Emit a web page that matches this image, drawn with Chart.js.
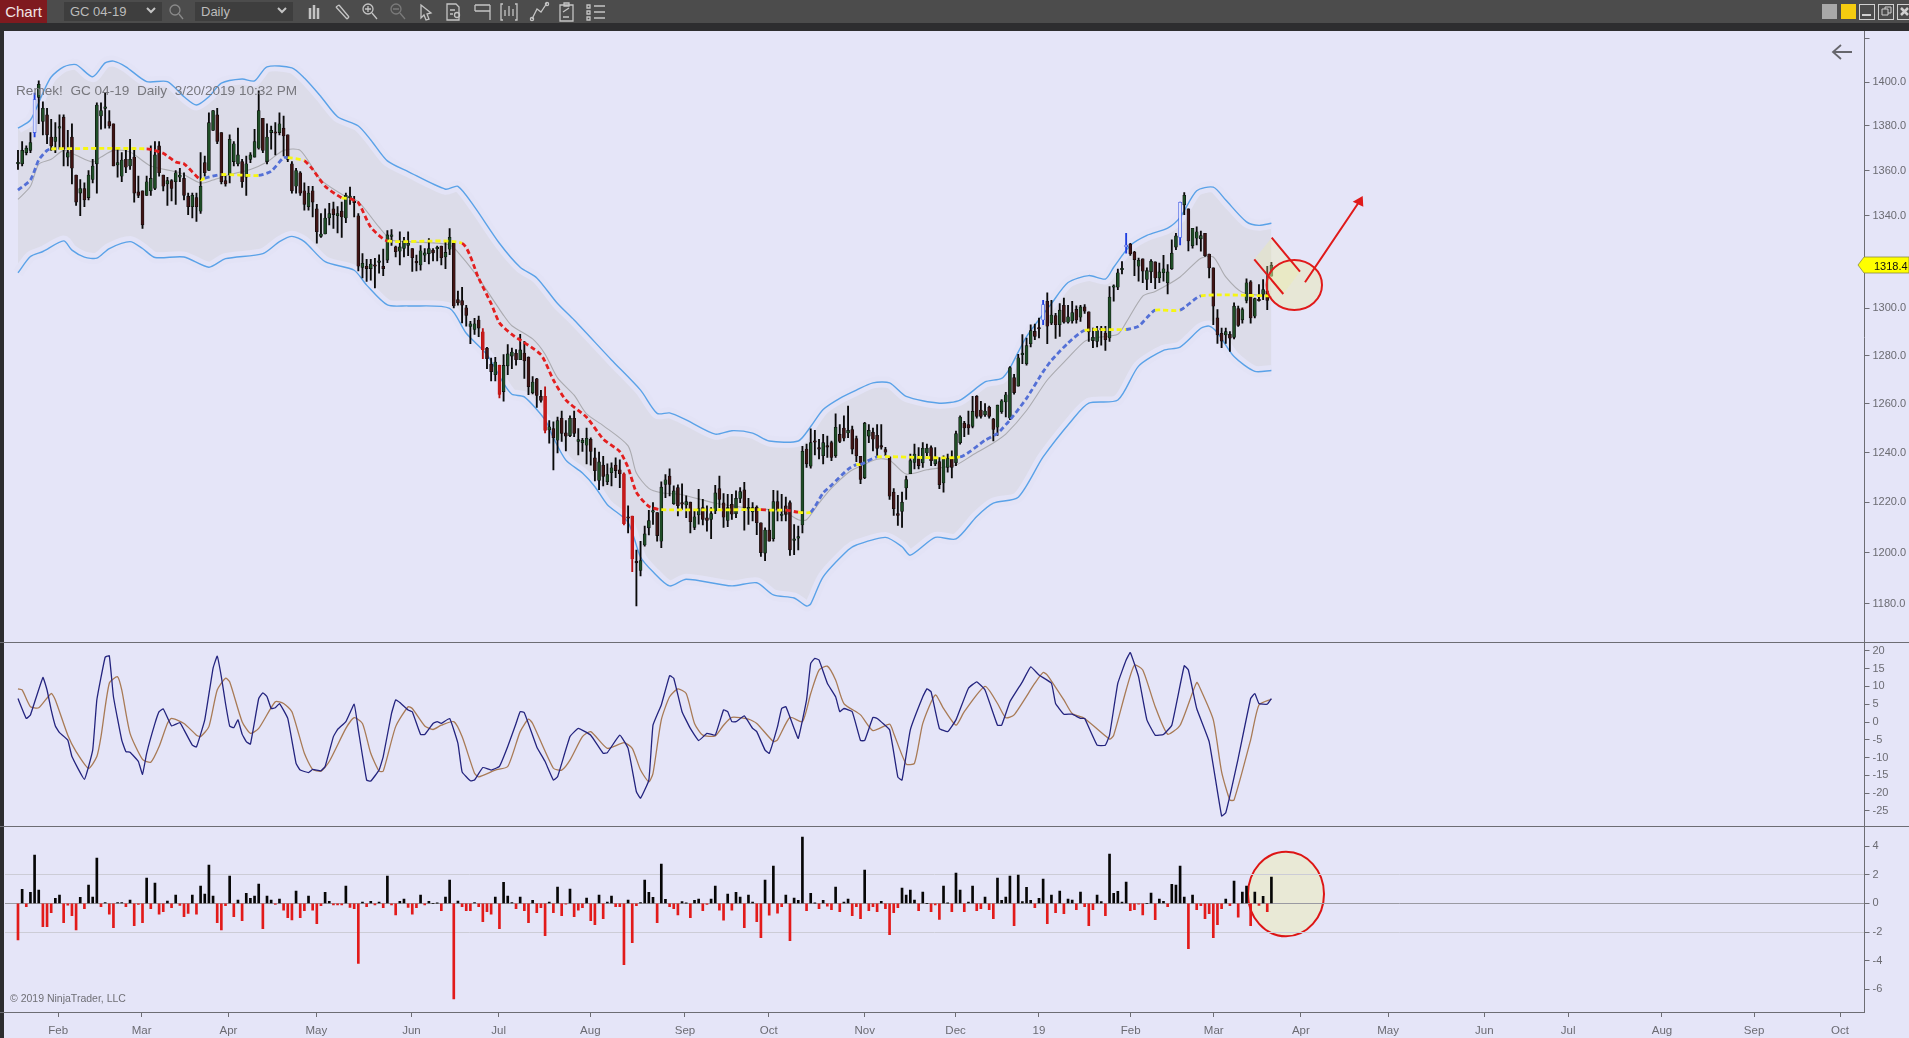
<!DOCTYPE html>
<html>
<head>
<meta charset="utf-8">
<title>GC 04-19 Daily</title>
<script src="https://cdn.jsdelivr.net/npm/chart.js@4/dist/chart.umd.min.js"></script>
<style>
  html, body { margin: 0; padding: 0; width: 1909px; height: 1038px; overflow: hidden; background: #e5e5f8; font-family: "Liberation Sans", sans-serif; }
  canvas { position: absolute; left: 0; }
  .abs { position: absolute; }
  #topbar { left: 0; top: 0; width: 1909px; height: 23px; background: #4c4c4c; }
  #topshade { left: 0; top: 23px; width: 1909px; height: 8px; background: #2d2d2f; }
  #leftstrip { left: 0; top: 31px; width: 4px; height: 1007px; background: #2d2d2f; }
  #chartbtn { left: 0; top: 0; width: 47px; height: 23px; background: #7f1a1f; color: #f2e6e6; font-size: 15px; line-height: 24px; text-align: center; }
  .picker { top: 2px; height: 19px; background: #3e3e3e; color: #bcbcbc; font-size: 13px; line-height: 20px; padding-left: 6px; box-sizing: border-box; }
  .sep { left: 0; width: 1909px; height: 1px; background: #6d6d74; }
  #title { left: 16px; top: 83px; font-size: 13.6px; color: #77777d; white-space: pre; }
  #copy { left: 10px; top: 992px; font-size: 10.5px; color: #6f6f75; white-space: pre; }
  svg { position: absolute; left: 0; top: 0; }
</style>
</head>
<body>
<svg width="1909" height="1038" xmlns="http://www.w3.org/2000/svg">
  <!-- lower pane circle sits behind the bars -->
  <ellipse cx="1286" cy="894" rx="38" ry="42.3" fill="#e9e9d6" stroke="#dd1515" stroke-width="2"/>
</svg>
<canvas id="priceChart" width="1909" height="612" style="top:31px"></canvas>
<canvas id="oscChart" width="1909" height="184" style="top:643px"></canvas>
<canvas id="histChart" width="1909" height="211" style="top:827px"></canvas>

<div class="abs" id="topbar"></div>
<div class="abs" id="topshade"></div>
<div class="abs" id="leftstrip"></div>
<div class="abs" id="chartbtn">Chart</div>
<div class="abs picker" style="left:64px;width:98px">GC 04-19</div>
<div class="abs picker" style="left:195px;width:98px">Daily</div>
<div class="abs sep" style="top:642px"></div>
<div class="abs sep" style="top:826px"></div>
<div class="abs sep" style="top:1012px;width:1865px"></div>
<div class="abs" id="title">Remek!  GC 04-19  Daily  3/20/2019 10:32 PM</div>
<div class="abs" id="copy">© 2019 NinjaTrader, LLC</div>

<svg width="1909" height="1038" xmlns="http://www.w3.org/2000/svg">
  <!-- toolbar icons -->
  <g fill="none" stroke="#c4c4c4" stroke-width="1.3">
    <circle cx="175" cy="10" r="5" stroke="#8a8a8a"/><path d="M179 14l4 5" stroke="#8a8a8a"/>
    <path d="M310 8v11M314 5v14M318 8v11" stroke-width="2.5"/>
    <path d="M336 7l11 12M339 5l10 12M336 7l3-2M347 19l2-2"/>
    <circle cx="368" cy="9" r="5"/><path d="M372 13l5 6M365 9h6M368 6v6"/>
    <circle cx="396" cy="9" r="5" stroke="#7a7a7a"/><path d="M400 13l5 6M393 9h6" stroke="#7a7a7a"/>
    <path d="M421 5l10 8-4 1 2 5-3 1-2-5-3 3z"/>
    <path d="M447 4h9l3 3v13h-12zM450 10h5M450 14h3"/><circle cx="457" cy="15" r="2.5"/>
    <path d="M475 5h15M475 11h15M475 5v6M490 5v15"/>
    <path d="M503 4h-2v16h2M515 4h2v16h-2M505 16v-6M509 16v-10M513 16v-7"/>
    <path d="M532 19l5-10 4 3 6-9"/><circle cx="532" cy="19" r="1.6"/><circle cx="547" cy="4" r="1.6"/>
    <path d="M560 5h13v16h-13zM564 3h5v3h-5zM563 12l6-4M563 17h6"/>
    <path d="M587 5h3v3h-3zM587 11h3v3h-3zM587 17h3v3h-3zM594 6h11M594 12h11M594 18h11"/>
    <path d="M147 8l4 4 4-4" stroke-width="2"/>
    <path d="M278 8l4 4 4-4" stroke-width="2"/>
  </g>
  <!-- window buttons -->
  <rect x="1822" y="4" width="15" height="15" fill="#a8a8a8"/>
  <rect x="1841" y="4" width="15" height="15" fill="#f5cc10"/>
  <g fill="none" stroke="#d0d0d0" stroke-width="1">
    <rect x="1859.5" y="4.5" width="15" height="15"/><path d="M1862 15h9" stroke-width="2"/>
    <rect x="1878.5" y="4.5" width="15" height="15"/><path d="M1882 9h6v6h-6zM1885 9v-2h6v6h-3"/>
    <rect x="1897.5" y="4.5" width="15" height="15"/><path d="M1901 8l7 7M1908 8l-7 7" stroke-width="2.5"/>
  </g>
  <!-- back arrow -->
  <path d="M1833 52h19M1841 45l-8 7 8 7" fill="none" stroke="#66666c" stroke-width="1.8"/>
  <!-- last price tag -->
  <path d="M1858 265l6-8h45v16h-45z" fill="#ffff00" stroke="#8c8c40" stroke-width="0.8"/>
  <text x="1874" y="269.5" font-size="11" fill="#111" font-family="Liberation Sans">1318.4</text>
  <!-- price panel drawing tools -->
  <polygon points="1271.7,237.7 1300,271.7 1283.3,294 1254.3,259.3" fill="#f0f0a0" fill-opacity="0.3"/>
  <ellipse cx="1294.3" cy="285" rx="27.7" ry="25" fill="#ecec9c" fill-opacity="0.36" stroke="#e01a1a" stroke-width="2"/>
  <g stroke="#e01a1a" stroke-width="2" fill="none">
    <path d="M1271.7 237.7L1300 271.7M1254.3 259.3L1283.3 294M1305 282.3L1359 202"/>
  </g>
  <polygon points="1352.7,201.7 1363.3,206.7 1362.7,196" fill="#e01a1a"/>
</svg>

<script>
// OHLC, one value per daily bar
const opens = [
  1363,1363,1368,1369,1377,1393,1382,1385,1375,1373,
  1379,1384,1366,1375,1358,1350,1352,1348,1356,1363,
  1384.5,1388,1382,1381,1362.5,1357.5,1365,1362,1366,1350.5,
  1351,1349,1351,1352,1371,1358,1354,1355.5,1355,1357,
  1356.5,1348.5,1344,1348,1342,1363.5,1360,1378,1385,1377,
  1355.5,1358,1364,1363,1364,1357,1365,1366,1370,1383.5,
  1364,1377,1377,1377,1379,1376,1363,1353,1359,1351,
  1344,1351,1343,1331,1332,1339,1343,1340,1342,1339,
  1348,1346,1340,1317.5,1318,1317,1318.6,1319.7,1318,1320.7,
  1331,1326.4,1324.5,1325.7,1327,1325.7,1319.8,1318.6,1322.8,1323.5,
  1325,1325.6,1326.8,1322,1325.4,1328,1303.7,1303.3,1300.2,1292.3,
  1291,1295,1290,1283.2,1276.4,1272,1275.9,1265,1275.7,1279.8,
  1281,1278.3,1281.1,1279.3,1264.5,1270.3,1263,1263,1249.2,1249.8,
  1245,1254,1248,1246.9,1254,1244.5,1244,1243,1245.4,1237.8,
  1228.7,1234.9,1228.2,1231.8,1234.9,1233,1231.4,1214,1214.5,1196.5,
  1193,1203,1209.8,1216,1215.8,1204.5,1227.1,1230.5,1219.4,1225.8,
  1219.5,1218.9,1220,1210,1214.9,1217.8,1213.8,1213.1,1216.5,1225.4,
  1219.7,1212.7,1219.1,1215.4,1221.5,1224.9,1217.3,1216.1,1218,1211.8,
  1199.8,1208.9,1205.5,1220.2,1214.7,1218.5,1219.8,1204.8,1205.7,1210.9,
  1241.4,1234.5,1244.6,1241.8,1238.7,1242.6,1244,1238.7,1247.4,1250,
  1248,1249.4,1245.7,1238.5,1229.8,1246.7,1248.3,1247,1242.7,1241.2,
  1238.3,1224,1215.4,1216.3,1225.7,1231.4,1236,1238.5,1235.8,1239.8,
  1242,1235.4,1236.3,1227.7,1234,1238,1235.8,1244,1252,1251.4,
  1250.7,1263,1257.4,1255.4,1258.5,1253.7,1250.3,1256.7,1260.7,1254,
  1270.8,1267.3,1280.4,1276.6,1285,1290.2,1291.6,1295,1303,1293.7,
  1296.9,1293,1301.3,1294.1,1294.6,1299.5,1296.2,1300.6,1298.5,1286.3,
  1286,1291.2,1289.5,1287.4,1309,1309,1316.5,1326.5,1327.6,1324.2,
  1318,1321.2,1312.3,1315.6,1319.9,1313,1315.2,1310.9,1316.9,1326.3,
  1330.5,1344.8,1343,1326.9,1330.2,1329.9,1332.3,1323.3,1317.3,1295.9,
  1289.4,1288.7,1289,1287.7,1299.9,1295.1,1303.3,1311.3,1296.6,1303.4,
  1305.9,1307.3,1313.7
];
const highs = [
  1369,1373,1371,1377,1395,1400.5,1391,1388,1383,1381.5,
  1385,1385,1378,1381,1358,1356,1354.5,1360,1365,1390.5,
  1390.5,1395,1387,1381,1369.5,1368,1369,1374,1370,1357.5,
  1351,1357.5,1371,1373,1373,1358,1357,1356,1360,1361,
  1359,1350,1350,1350,1368,1366.5,1386,1387,1388,1377,
  1357.5,1376,1373,1379,1365,1366.5,1368,1378.5,1396,1383.5,
  1381,1380,1381.5,1386,1384.5,1376,1364,1361,1359.5,1354.5,
  1353,1353,1345,1341,1343,1345.5,1346,1344,1346,1350,
  1352.7,1348.5,1341,1323.5,1321,1321,1321.4,1323,1325.4,1333.5,
  1334,1326.8,1333,1330.6,1333,1325.7,1322.8,1327,1325.7,1330,
  1325.7,1326.8,1326.8,1328.8,1334.4,1328.5,1307.3,1309,1301.3,1294.5,
  1295.7,1296.7,1291.4,1283.5,1279,1279.3,1276,1280.4,1284.6,1283.2,
  1282.5,1289,1286,1279.5,1271.2,1270.5,1265.5,1267,1253,1252.5,
  1254.5,1256.9,1253,1255,1257,1249.8,1245.8,1250,1246,1241.8,
  1240.2,1238.5,1235.4,1235.8,1237.8,1237,1231.8,1218.5,1214.5,1201,
  1204.5,1210.5,1216.7,1219.8,1215.8,1228.2,1231.1,1233.4,1226.5,1226.9,
  1227.4,1222.5,1220,1216.5,1225.1,1221.1,1218.5,1217.8,1226.7,1230.5,
  1223.4,1223.1,1223.1,1224.5,1225.8,1228,1221.5,1219.8,1218.5,1211.8,
  1209.8,1217.1,1224.7,1224.5,1223.1,1222,1220.5,1211.1,1210.5,1242.5,
  1243.4,1249.7,1249.1,1245.4,1247.4,1246.7,1244.7,1255.8,1251.4,1255,
  1259,1250.8,1246.7,1238.5,1252.3,1251.4,1250,1251.4,1251.4,1242.1,
  1238.3,1225.4,1222.7,1224,1230.5,1239.4,1243.4,1242,1244,1243.4,
  1242.7,1242,1238,1238.7,1239.4,1240.7,1248.7,1255,1252.7,1257,
  1263,1263.4,1261,1260,1259,1254,1259.4,1261.7,1264.7,1275.4,
  1272.2,1280.5,1288.8,1287.4,1293,1293.3,1295.8,1303.4,1306.6,1303.4,
  1297.8,1302,1304.3,1301.3,1303,1301,1301.3,1301.6,1298.5,1291.6,
  1292.3,1292.3,1292.3,1309.3,1310,1316.8,1320,1332.3,1328,1324.5,
  1321.6,1321.2,1317.3,1320.9,1319.9,1319.4,1322.7,1318.7,1329.5,1332.3,
  1346,1350.2,1343,1334.5,1335.2,1333.3,1332.3,1323.3,1317.3,1299.4,
  1291.6,1291.6,1290.1,1302.3,1300.9,1300.2,1312.6,1311.9,1304.4,1310.1,
  1312.3,1318,1319.7
];
const lows = [
  1360.5,1362,1367,1368,1375,1381,1376,1372,1369,1368,
  1369.5,1362,1362,1354,1344.5,1340,1344,1347,1354.5,1350,
  1378.5,1379,1379,1362,1357,1355,1359,1360.5,1346,1348,
  1334.5,1349,1349,1351.5,1357.5,1351,1344.5,1346.5,1345,1355,
  1347,1340.5,1339,1337.5,1341,1357.5,1360,1378,1372,1354,
  1353,1354.5,1362,1362,1352.5,1349,1363.5,1366,1369.5,1368,
  1363,1369.5,1367,1376,1366.5,1364,1350,1350,1349,1342.5,
  1342.5,1339.5,1328,1330.5,1332,1336,1334.5,1332.5,1330.5,1337,
  1345,1339.5,1316,1313,1311.5,1312,1308.7,1315,1314,1319.6,
  1327,1322,1318.6,1322,1322.6,1315.8,1316,1316.3,1320,1319,
  1320.3,1320.3,1318.6,1317,1323,1300.2,1301.3,1293.8,1292.4,1285,
  1288.9,1288,1278.7,1274.5,1269.4,1269.4,1262.4,1261,1272,1274.5,
  1276,1278.3,1270.5,1263.7,1264,1258.5,1260.6,1248,1243.8,1233,
  1239.8,1244.5,1240.7,1246.5,1246.5,1239,1240.5,1235.4,1234.9,1228.5,
  1225,1226.5,1227,1226.5,1229.8,1225.8,1210.9,1207.8,1192.5,1179.2,
  1190.9,1202.5,1207,1211.1,1204.5,1202,1221.8,1222.5,1219.1,1214.5,
  1217.1,1213.8,1207.8,1209.1,1211.2,1210.9,1208.5,1205.5,1215.4,1217.8,
  1210,1210.2,1213.1,1213.8,1219.8,1208.9,1211.1,1212.5,1207.1,1198.5,
  1196.8,1204.5,1204.5,1212.5,1212.5,1212.5,1198.9,1199.2,1201.1,1207.8,
  1234,1233.7,1239,1237.4,1235.4,1238,1236.7,1238,1244,1244.7,
  1246,1239.4,1236.3,1227.4,1229.4,1244,1240.7,1238,1241.4,1238.7,
  1221.1,1214.7,1210.7,1210,1221.1,1231.4,1233.4,1233.4,1234,1238.7,
  1234.7,1234.7,1225.4,1224,1232,1229.7,1234.7,1243.4,1246.5,1247.4,
  1250,1254,1254,1254.8,1254,1244.7,1247,1256,1254.5,1253.4,
  1263.9,1267.3,1276.6,1276,1283.6,1286.7,1287.4,1293,1285,1293,
  1287.2,1288.1,1293.7,1293.7,1293.7,1293.7,1294.4,1297.8,1286,1283.3,
  1283.6,1284.4,1282.2,1286,1303,1308,1314.7,1323.7,1322.7,1314,
  1311.6,1310.9,1308,1310.9,1308.4,1310.9,1311.6,1306.1,1316.6,1325.2,
  1327.3,1340.5,1324.7,1325.9,1327.3,1324.5,1322.3,1313,1293,1285.1,
  1283.3,1285.1,1281.8,1287,1292.3,1293.7,1302.3,1293.7,1295.9,1303,
  1303.7,1299.4,1313.7
];
const closes = [
  1363.2,1369,1370,1372.5,1392,1399,1388,1376,1371,1375,
  1379.5,1369.5,1368,1361,1346,1352,1347,1358,1362,1389.5,
  1387,1388.3,1380,1362,1363.5,1364.7,1361.5,1365,1350,1349,
  1336,1355,1356.5,1367,1359,1353,1355.5,1352,1359,1358,
  1349,1344,1349,1344,1353,1359,1381.5,1387,1373,1355,
  1354,1374,1372,1367,1355,1363,1367,1373,1387,1369,
  1375,1378,1376.7,1381,1375.5,1365,1351,1360,1350,1345,
  1350,1346,1333,1332,1339,1341,1340.5,1341,1339.5,1349,
  1348.7,1345.8,1318,1319.3,1317,1319,1318,1320,1317,1331.6,
  1331.2,1324.3,1326.4,1329,1328,1321.7,1319.5,1324.7,1323.8,1325.7,
  1323.8,1325.8,1321.7,1324,1330.6,1301,1302.3,1301.3,1297,1293.4,
  1293.4,1291.6,1282.5,1278.7,1273.3,1277.3,1263.8,1275.9,1280.7,1281.5,
  1278.3,1282.4,1277.8,1267,1269,1263.4,1261.3,1249,1250.5,1246,
  1253,1247.8,1246.7,1254,1247.8,1245.3,1245,1245.8,1240.5,1232.7,
  1236.2,1230.3,1231.1,1233.8,1232.7,1231.4,1211.4,1213.6,1197.5,1196,
  1196.9,1207.4,1212.7,1216.1,1206.7,1226,1229,1227.1,1224.5,1218.6,
  1219.2,1220.2,1212.2,1214.2,1217.4,1213.1,1212.7,1215.4,1223.7,1221.1,
  1214,1217.8,1215.2,1221.5,1224.2,1217.8,1217.5,1217.8,1211.8,1200,
  1208.9,1204.5,1220.2,1217.1,1214.8,1215.1,1201.1,1204.9,1206.2,1240.5,
  1235.4,1244,1244.2,1241.4,1244,1242.2,1238,1250.3,1244.5,1245.8,
  1249,1241.4,1238.7,1229.1,1252,1249,1245.4,1241.7,1242.2,1240.1,
  1222.4,1217.4,1214.7,1220,1229.1,1236.7,1239.4,1234.7,1241.7,1241.7,
  1236.7,1238,1227,1237.4,1237.7,1234,1247.7,1254.5,1250,1250,
  1256.8,1254.8,1254.8,1257,1254.8,1249.4,1259.4,1261.2,1263.7,1275,
  1264.6,1279.1,1280.6,1284.2,1290.5,1288.1,1291.2,1301.6,1292.4,1297.1,
  1293,1299.2,1294.1,1296.4,1298.2,1295,1300.6,1298.8,1290,1287.7,
  1290.5,1290.9,1286.7,1304.8,1309.4,1315.2,1317,1327,1323.3,1320.9,
  1320.6,1315.9,1316.2,1320.2,1313,1315.6,1316.9,1315.6,1323.7,1331.2,
  1345.9,1349,1329,1334.5,1333,1331.3,1322.6,1317.3,1300.9,1288.7,
  1286.1,1290.1,1287.3,1300.9,1292.7,1299.4,1310.9,1295.9,1304.1,1303.2,
  1308,1303.3,1318.4
];
const blueBars = [4, 247, 267, 280];
const brightBars = [112, 116, 127, 146, 148];

// channel, average and trend lines, read at their turning points
const upperBars = [0,3,6,8,11,14,18,21,23,26,31,36,40,43,46,49,54,57,60,66,69,73,77,82,85,89,94,103,106,110,116,121,125,130,134,143,150,154,157,161,168,172,177,181,188,191,194,198,202,206,210,214,222,227,233,237,239,243,249,253,258,262,264,268,272,277,280,284,288,291,296,299,302];
const upperBand = [1379,1382.7,1395,1402.3,1407,1408,1402.4,1408.8,1409.6,1407,1400.2,1400.2,1393.3,1389.5,1393.3,1399.5,1401.4,1400.5,1407,1406.5,1401.8,1393.3,1384.2,1380,1373.7,1364.3,1359.5,1351.7,1353,1343.9,1328,1317.6,1313,1302,1295,1278.2,1265.6,1256,1256.2,1253.3,1247.5,1248.9,1247.9,1244.7,1244.7,1250.6,1257.6,1262.2,1265.6,1268.6,1268.6,1263,1260.2,1261.5,1269,1270.5,1274.8,1288,1302,1311,1314,1312.5,1317.6,1327,1331.4,1334.6,1339.3,1351,1352.6,1346.9,1337.3,1335.8,1336.7];
const lowerBars = [0,3,6,11,13,16,19,22,27,30,33,40,46,50,59,63,66,69,74,81,84,89,94,104,108,113,117,119,122,127,129,132,136,139,142,147,150,153,157,161,172,178,182,187,190,191,194,200,202,209,213,215,221,226,231,235,241,247,254,258,265,270,276,280,285,287,289,293,298,302];
const lowerBand = [1315.2,1322.2,1324.4,1329,1325,1322,1321.5,1325.7,1328.7,1325.7,1321.8,1322,1317.6,1321.3,1323.5,1328.7,1331,1328.7,1320,1316.3,1309.9,1301.4,1301,1300,1289.4,1280.4,1268.4,1263.9,1262.8,1253.3,1246,1236.9,1231.7,1226.2,1219,1212,1198.3,1192.5,1187,1189.6,1187,1188.2,1183.5,1182.3,1179.2,1180,1190.5,1201,1203,1206,1202.3,1199,1206,1205.4,1214.3,1219.6,1222,1238.2,1253.3,1260.2,1261.5,1275.6,1282.2,1283.6,1291.5,1292.4,1289.6,1279.6,1273.4,1273.8];
const smaBars = [0,3,5,8,11,14,18,20,23,27,32,39,44,47,51,56,60,64,68,73,79,82,87,90,95,104,107,111,117,119,124,127,130,134,137,141,147,149,152,155,160,168,178,184,188,190,193,196,200,202,207,210,214,219,226,230,235,238,243,248,253,257,260,265,267,271,274,280,285,288,291,295,302];
const smaValues = [1347.2,1353,1362.8,1365,1369,1366.8,1363.8,1366,1369,1368.3,1362,1359,1354.4,1355.8,1358.2,1360.5,1363.8,1369,1369,1355.8,1348.4,1346.2,1335,1329.4,1328.6,1327.2,1322,1312.8,1297,1292.6,1287,1280.6,1270.7,1263.5,1255.8,1251,1242.7,1231.7,1225.5,1223.8,1223,1219.6,1217.3,1216.6,1213,1213,1219.6,1225.6,1231.8,1233.7,1237.3,1236.9,1231.3,1233,1235,1239,1243.9,1247.5,1257.2,1269.8,1279,1286,1287.6,1289,1294,1305.2,1307.2,1313.4,1321.5,1322,1313.4,1306.8,1305];
const trendBars = [0,3,5,7,8,31,35,38,40,44,45,49,58,61,64,65,69,71,74,78,80,82,85,89,107,111,114,116,119,126,129,132,137,141,145,147,149,152,155,179,181,185,188,191,194,196,200,202,203,207,227,233,236,239,243,247,249,253,257,267,270,272,274,280,285,302];
const trendValues = [1351.3,1355.8,1364.7,1369,1369.7,1369.7,1367.7,1363.8,1363,1355.8,1356.6,1358.2,1357.8,1359.7,1365.8,1365.8,1364.4,1360.5,1353,1347.9,1347.5,1345.8,1335,1329,1328,1312.8,1302,1293.8,1288.9,1280.4,1269.8,1261.5,1254.4,1245.5,1240.4,1233.9,1223.9,1218.3,1217,1217,1216.8,1216.8,1216,1216,1223.7,1226.8,1233.2,1235.1,1235.1,1238.2,1238.2,1245,1247.8,1253.3,1262.2,1273.3,1278,1285.3,1290.6,1291,1292.4,1296,1299.2,1299.2,1305.3,1305.3];
// colour of the stretch that starts at each trend point
const trendKinds = ['bbbb','y','rrrr','y','b','y','bbb','y','rrr','y','rrr','y','rrrrrrrrrrrrrr','y','r','y','r','y','bbbb','y','b','y','bbbbbbbb','y','bbb','y','b','yy'].join('').split('');

// oscillator pane
const navyBars = [0,2,3,6,7,8,9,10,12,13,16,18,19,21,22,23,25,26,27,29,30,31,33,34,35,37,39,40,42,43,45,47,48,49,50,51,52,53,54,55,56,58,59,60,61,62,63,65,67,68,70,71,73,74,76,77,79,81,82,84,85,87,88,90,91,92,94,95,97,98,100,101,102,104,106,107,109,110,112,114,116,118,120,121,122,125,127,129,130,133,135,138,141,142,145,147,149,150,152,153,155,157,158,160,162,164,166,168,170,171,172,173,175,177,178,180,181,183,184,185,187,188,190,191,192,193,195,197,198,199,201,203,204,206,207,210,212,213,215,218,219,220,222,224,226,229,231,233,236,237,239,242,244,246,249,250,252,254,256,257,260,262,263,265,267,268,270,272,274,276,278,281,282,284,287,290,291,294,297,298,299,301,302];
const navyValues = [6.6,1,2,12.5,9,3.4,-1.1,-3,-5.1,-9.7,-16.1,-7.9,6.2,18.2,18.6,7.1,-5.1,-8.3,-8.5,-11.1,-14.7,-8.8,-0.4,2.9,3.7,-1.1,-0.2,-2.2,-6.5,-7,0.6,15.1,18.5,12.7,5.2,-1.1,-1.6,0.6,-3.4,-5.5,-6.2,6.6,8.2,7.1,3.8,4,5.2,1,-11.6,-13.5,-14.2,-13.3,-13.7,-12.5,-4.1,-2.1,0.1,5,-2.2,-16.3,-16.6,-13.5,-9.7,2.4,6.2,5.5,3.4,2.9,-3.5,-3.5,-0.4,0.1,-0.4,1,-6,-14,-16.5,-16.3,-12.8,-13.5,-12.5,-6.9,-0.4,2.9,2.6,-7,-11.1,-16.3,-15.4,-4.1,-1.8,-3.7,-8.8,-8.6,-3.7,-7.4,-19.6,-21.4,-16.3,-0.9,4.8,13,12.3,2.9,-1.8,-5.2,-3.2,-3.7,3.4,2.9,0.1,0.1,1.7,-1.8,-2.7,-7.9,-8.8,-1.3,3.8,4.3,-1.8,-4.6,6.2,16.5,17.9,17.4,10.9,7.1,2.9,3.8,2.9,-5.2,-5.2,1.3,1,-2.2,-15.5,-16.3,-2.2,7.1,9.3,8.5,-1.8,-2.7,0.6,9.5,11.3,9,-0.9,-0.9,5.7,11.3,15.5,13.2,10.9,5.2,2.2,2.2,1,1,-6.5,-6.5,-3.7,10.9,17.4,19.5,12.7,0.6,-3.7,-3.5,-0.9,15.8,14.6,3.8,-5.5,-26.4,-25.5,-10.2,6.6,8,5.2,5,6.6];
const brownBars = [0,1,3,5,8,9,12,14,17,19,20,22,24,25,27,30,32,34,36,37,40,43,44,46,48,50,51,54,56,58,62,64,66,69,71,73,75,79,81,83,85,87,88,91,94,95,98,100,102,105,107,110,111,115,118,121,123,124,129,131,133,136,138,142,146,148,150,152,153,155,157,159,161,163,165,168,170,172,176,178,182,183,186,189,191,193,195,197,199,203,206,210,211,214,216,218,221,223,226,228,233,236,238,240,245,247,248,252,254,257,263,264,267,269,271,274,277,280,284,285,288,290,292,293,297,299,302];
const brownValues = [9.3,9,4.3,4,8,6.2,-3.7,-8.3,-13,-9.7,-4.1,10.9,12.7,9,-3.2,-10.5,-11.3,-6.9,-0.4,1,-0.4,-3.7,-4.1,-1.3,9,12.3,11.3,0.1,-3.2,-1.8,5.7,5.2,2.9,-8.8,-13.3,-13.8,-11.1,-1.8,1.2,-0.4,-8.8,-13.8,-13.8,-1.3,4.3,3.8,-1.1,-2.1,-0.9,0.1,-4.1,-14.4,-15.4,-13.5,-12.5,-2.7,0.8,-0.4,-13,-13.5,-10.7,-4.1,-2.7,-7.4,-5.8,-7.4,-13.5,-16.8,-14.4,0.6,7.1,9.3,8,-0.4,-3.7,-3.9,-0.9,1.3,0.8,-0.4,-5.5,-5,1.3,0.1,8,14.6,15.7,11.8,5.2,2,-2.4,-0.6,-3.2,-11.8,-11.6,-0.4,7.6,3.8,-0.9,2.9,10,5.2,1.2,2,10.9,13.9,13.2,6.2,2.4,1,-4.8,-3.7,9,16,14.6,4.3,-3.4,-0.9,11.1,9,0.6,-14,-21.9,-21.9,-5,4.8,6.4];

// lower pane histogram, one value per daily bar
const histValues = [
  -2.56,0.98,-0.23,0.77,3.38,0.93,-1.63,-1.63,-0.65,0.35,
  0.58,-1.35,-0.12,-0.86,-1.86,0.42,-0.37,1.28,0.44,3.17,
  -0.23,0.05,-0.75,-1.7,0.05,0.05,-0.23,0.23,-1.56,-0.07,
  -1.35,1.77,-0.37,1.42,-0.75,-0.58,0.16,-0.3,0.58,-0.14,
  -0.93,-0.7,0.58,-0.75,1.21,0.65,2.68,0.51,-1.35,-1.86,
  -0.16,1.91,-0.93,0.23,-1.21,0.7,0.35,0.51,1.35,-1.77,
  0.51,0.23,-0.07,0.3,-0.47,-1,-1.16,0.86,-1,-0.51,
  0.51,-0.47,-1.42,-0.16,0.77,0.14,-0.1,-0.1,-0.1,1.21,
  -0.28,-0.37,-4.2,0.1,-0.23,0.14,-0.1,0.1,-0.3,1.91,
  -0.1,-0.8,0.14,0.3,-0.28,-0.75,-0.3,0.58,-0.1,0.14,
  0,0.02,-0.51,0.44,1.63,-6.67,0.16,-0.23,-0.51,-0.51,
  0.05,-0.23,-1.28,-0.58,-0.75,0.44,-1.77,1.47,0.51,0.05,
  -0.37,0.44,-0.51,-1.35,0.21,-0.65,-0.3,-2.26,0.1,-0.65,
  1.14,-0.86,-0.05,1,-0.93,-0.47,-0.3,0.37,-1.21,-1.49,
  0.58,-1.07,0.1,0.51,-0.23,-0.23,-4.29,0.23,-2.75,-0.16,
  0.05,1.63,0.77,0.42,-1.35,2.75,0.28,-0.23,-0.37,-0.8,
  0.12,0.02,-1,0.21,0.3,-0.51,-0.07,0.3,1.21,-0.47,
  -1.17,0.65,-0.47,0.77,0.44,-1.7,0.58,0.09,-1.28,-2.4,
  1.63,-0.82,2.61,-0.68,-0.23,0.58,-2.61,0.37,0.21,4.64,
  -0.51,0.7,0.02,-0.37,0.21,-0.19,-0.44,1.14,-0.58,0.09,
  0.3,-0.86,-0.23,-1.07,2.33,-0.51,-0.23,-0.58,0.14,-0.37,
  -2.19,-0.65,-0.3,1.07,0.58,0.93,0.23,-0.51,0.79,0,
  -0.58,-0.1,-1.12,1.21,0.02,-0.58,2.12,0.93,-0.58,0.09,
  1.21,-0.51,-0.37,0.44,-0.44,-1.07,1.77,0.21,0.44,1.91,
  -1.56,1.98,0.12,1.12,0.21,-0.3,0.35,1.7,-1.42,0.58,
  -0.65,0.86,-0.72,0.3,0.23,-0.44,0.79,-0.23,-1.56,-0.44,
  0.58,0.12,-0.86,3.45,0.7,0.84,0.09,1.49,-0.51,-0.44,
  -0.05,-0.8,0,0.72,-1.14,0.3,0.14,-0.23,1.33,1.28,
  2.61,0.44,-3.17,0.58,-0.44,-0.16,-1.07,-0.72,-2.4,-1.49,
  -0.37,0.3,-0.16,1.56,-0.96,0.79,1.21,-1.56,0.79,-0.14,
  0.49,-0.58,1.84
];

// axis ticks
const priceTicks = [1180,1200,1220,1240,1260,1280,1300,1320,1340,1360,1380,1400,1420];
const hiddenPriceLabels = [1320, 1420];
const oscTicks = [-25,-20,-15,-10,-5,0,5,10,15,20];
const histTicks = [-6,-4,-2,0,2,4];
const monthLabels = ['Feb','Mar','Apr','May','Jun','Jul','Aug','Sep','Oct','Nov','Dec','19','Feb','Mar','Apr','May','Jun','Jul','Aug','Sep','Oct'];
const monthBars = [9.7,29.8,50.7,71.9,94.8,115.8,137.9,160.7,180.9,204,225.9,246,268.1,288.1,309.1,330.1,353.3,373.5,396.1,418.3,439];

const AXIS = '#6d6d74';
const LABEL = '#6b6b72';
const trendColors = { b: '#5470d6', y: '#f6f612', r: '#e31f1f' };

const points = (xs, ys) => xs.map((x, i) => ({ x: x, y: ys[i] }));

// x axis is shared by all three panes: bar number, with empty room on the right
function xAxis(show) {
  return {
    type: 'linear', offset: false, min: -3.13, max: 444.9, display: show,
    afterBuildTicks: s => { s.ticks = monthBars.map(v => ({ value: v })); },
    afterFit: s => {
      s.paddingLeft = 0; s.paddingRight = 0;
      if (show) s.height = 26;
    },
    grid: { drawOnChartArea: false, offset: false, tickLength: 5, tickColor: AXIS },
    border: { color: AXIS },
    ticks: {
      autoSkip: false, maxRotation: 0, padding: 7, color: LABEL, font: { size: 11.5, family: 'Liberation Sans' },
      callback: (v, i) => monthLabels[i]
    }
  };
}

function yAxis(opts, tickList, fmt, gridColor) {
  return Object.assign({
    position: 'right',
    afterBuildTicks: s => { s.ticks = tickList.map(v => ({ value: v })); },
    // no label padding, the axis line has to run the full height of the pane
    afterFit: s => { s.width = 44.5; s.paddingTop = 0; s.paddingBottom = 0; },
    grid: { color: gridColor || 'transparent', tickLength: 5, tickColor: AXIS, lineWidth: 1 },
    border: { color: AXIS },
    ticks: { autoSkip: false, padding: 3, color: LABEL, font: { size: 11, family: 'Liberation Sans' }, callback: fmt }
  }, opts);
}

function baseOptions(scales) {
  return {
    responsive: false, animation: false, events: [],
    layout: { padding: { left: 5, right: 0, top: 0, bottom: 0 } },
    plugins: { legend: { display: false }, tooltip: { enabled: false } },
    elements: { point: { radius: 0 } },
    scales: scales
  };
}

const barIds = opens.map((v, i) => i);

function bodyFill(ctx) {
  const i = ctx.dataIndex;
  if (blueBars.includes(i)) return '#dfe3fb';
  if (brightBars.includes(i)) return '#c81a1a';
  return closes[i] >= opens[i] ? '#1f4d26' : '#3f1414';
}
function bodyEdge(ctx) {
  const i = ctx.dataIndex;
  if (blueBars.includes(i)) return '#1f3fe0';
  if (brightBars.includes(i)) return '#b81212';
  return '#0a0a0a';
}

new Chart(document.getElementById('priceChart'), {
  type: 'bar',
  data: {
    datasets: [
      // channel fill
      { type: 'line', data: points(upperBars, upperBand), borderWidth: 0, tension: 0.25, fill: '+1', backgroundColor: '#dcdce9', order: 7 },
      { type: 'line', data: points(lowerBars, lowerBand), borderWidth: 0, tension: 0.25, order: 7 },
      // lighter rim inside the channel lines
      { type: 'line', data: points(upperBars, upperBand), borderColor: '#e3e3f6', borderWidth: 11, tension: 0.25, order: 6 },
      { type: 'line', data: points(lowerBars, lowerBand), borderColor: '#e3e3f6', borderWidth: 11, tension: 0.25, order: 6 },
      { type: 'line', data: points(upperBars, upperBand), borderColor: '#5aa2e8', borderWidth: 1.4, tension: 0.25, order: 5 },
      { type: 'line', data: points(lowerBars, lowerBand), borderColor: '#5aa2e8', borderWidth: 1.4, tension: 0.25, order: 5 },
      { type: 'line', data: points(smaBars, smaValues), borderColor: '#ababb0', borderWidth: 1.1, tension: 0.25, order: 4 },
      // wicks then candle bodies
      {
        data: barIds.map(i => ({ x: i, y: [lows[i], highs[i]] })), grouped: false, barThickness: 1.2,
        backgroundColor: ctx => blueBars.includes(ctx.dataIndex) ? '#1f3fe0' : brightBars.includes(ctx.dataIndex) ? '#b81212' : '#0a0a0a',
        order: 3
      },
      {
        data: barIds.map(i => ({ x: i, y: [opens[i], closes[i]] })), grouped: false, barThickness: 3, minBarLength: 1.5,
        backgroundColor: bodyFill, borderColor: bodyEdge, borderWidth: 0.6, borderSkipped: false,
        order: 2
      },
      {
        type: 'line', data: points(trendBars, trendValues), borderWidth: 2.8, borderDash: [5, 3], tension: 0.2, order: 1,
        borderColor: trendColors.b,
        segment: { borderColor: c => trendColors[trendKinds[c.p0DataIndex]] }
      }
    ]
  },
  options: baseOptions({
    x: xAxis(false),
    y: yAxis({ type: 'logarithmic', min: 1165, max: 1423.6 }, priceTicks,
      v => hiddenPriceLabels.includes(v) ? '' : Number(v).toFixed(1))
  })
});

new Chart(document.getElementById('oscChart'), {
  type: 'line',
  data: {
    datasets: [
      { data: points(brownBars, brownValues), borderColor: '#a87a55', borderWidth: 1.3, tension: 0.2, order: 2 },
      { data: points(navyBars, navyValues), borderColor: '#23237e', borderWidth: 1.3, tension: 0.1, order: 1 }
    ]
  },
  options: baseOptions({
    x: xAxis(false),
    y: yAxis({ type: 'linear', min: -29.5, max: 22.2 }, oscTicks, v => String(v))
  })
});

new Chart(document.getElementById('histChart'), {
  type: 'bar',
  data: {
    datasets: [{
      data: barIds.map(i => ({ x: i, y: histValues[i] })), barThickness: 2,
      backgroundColor: ctx => histValues[ctx.dataIndex] >= 0 ? '#060606' : '#e21a1a'
    }]
  },
  options: baseOptions({
    x: xAxis(true),
    y: yAxis({ type: 'linear', min: -7.59, max: 5.34 }, histTicks, v => String(v),
      ctx => ctx.tick.value === 0 ? '#9a9aa2' : Math.abs(ctx.tick.value) === 2 ? '#ccccd6' : 'transparent')
  })
});
</script>
</body>
</html>
